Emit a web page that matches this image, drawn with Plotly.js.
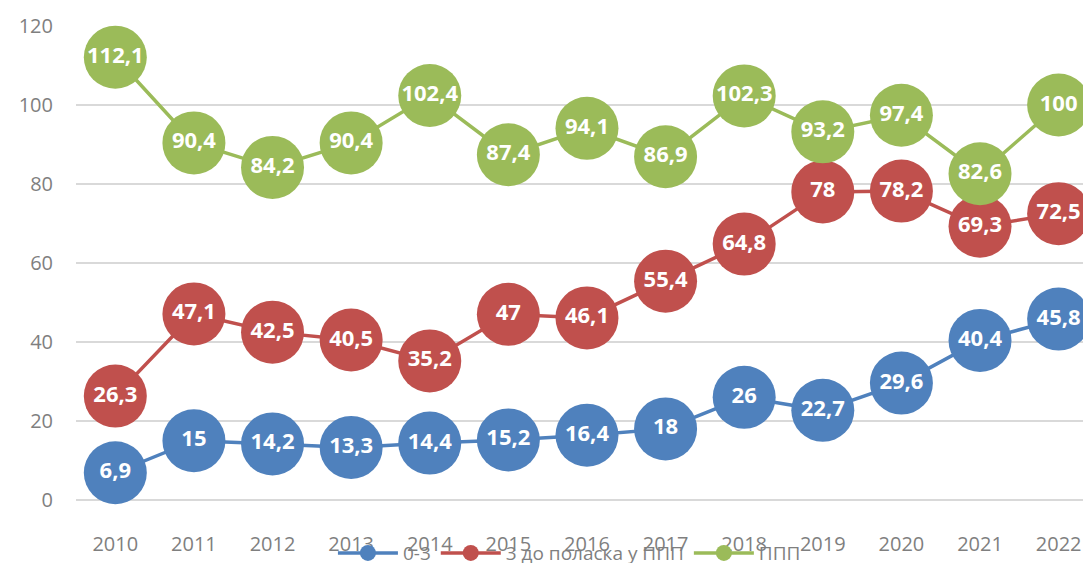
<!DOCTYPE html>
<html><head><meta charset="utf-8">
<script src="https://cdn.plot.ly/plotly-3.0.1.min.js"></script>
<style>html,body{margin:0;padding:0;background:#fff}#chart{width:1083px;height:563px}</style>
</head><body><div id="chart"></div>
<script>
const years = ['2010','2011','2012','2013','2014','2015','2016','2017','2018','2019','2020','2021','2022'];
const seriesNames = ['0-3', '3 до поласка у ППП', 'ППП'];
const s03 = [6.9, 15, 14.2, 13.3, 14.4, 15.2, 16.4, 18, 26, 22.7, 29.6, 40.4, 45.8];
const s3ppp = [26.3, 47.1, 42.5, 40.5, 35.2, 47, 46.1, 55.4, 64.8, 78, 78.2, 69.3, 72.5];
const sppp = [112.1, 90.4, 84.2, 90.4, 102.4, 87.4, 94.1, 86.9, 102.3, 93.2, 97.4, 82.6, 100];
const colors = ['#4F81BD', '#C0504D', '#9BBB59'];

const fmt = v => String(v).replace('.', ',');
const mk = (name, vals, color) => ({
  type: 'scatter', mode: 'lines+markers+text', name: name,
  x: years, y: vals, text: vals.map(fmt), textposition: 'middle center',
  textfont: {family: 'Open Sans', size: 22, color: '#ffffff', weight: 'bold'},
  line: {color: color, width: 3.5},
  marker: {color: color, size: 63},
  cliponaxis: false
});
const data = [mk(seriesNames[0], s03, colors[0]), mk(seriesNames[1], s3ppp, colors[1]), mk(seriesNames[2], sppp, colors[2])];

const layout = {
  width: 1083, height: 563,
  margin: {l: 76, r: 0, t: 26, b: 63, autoexpand: false},
  paper_bgcolor: '#ffffff', plot_bgcolor: '#ffffff',
  showlegend: true,
  legend: {orientation: 'h', x: 0.49, xanchor: 'center', y: -0.112, yanchor: 'middle',
    font: {family: 'Open Sans', size: 19, color: '#7f7f7f'}, bgcolor: 'rgba(0,0,0,0)', itemwidth: 60,
    tracegroupgap: 0},
  xaxis: {type: 'category', range: [-0.5, 12.31], showgrid: false, zeroline: false, showline: false,
    ticks: '', ticklabelstandoff: 30,
    tickfont: {family: 'Open Sans', size: 20, color: '#7f7f7f'}},
  yaxis: {range: [0, 120], dtick: 20, showgrid: true, gridcolor: '#d9d9d9', gridwidth: 1.5,
    zeroline: true, zerolinecolor: '#d9d9d9', zerolinewidth: 1.5, showline: false, ticks: '', ticklabelstandoff: 22,
    tickfont: {family: 'Open Sans', size: 20, color: '#7f7f7f'}}
};
Plotly.newPlot('chart', data, layout, {displayModeBar: false, staticPlot: true});
</script></body></html>
